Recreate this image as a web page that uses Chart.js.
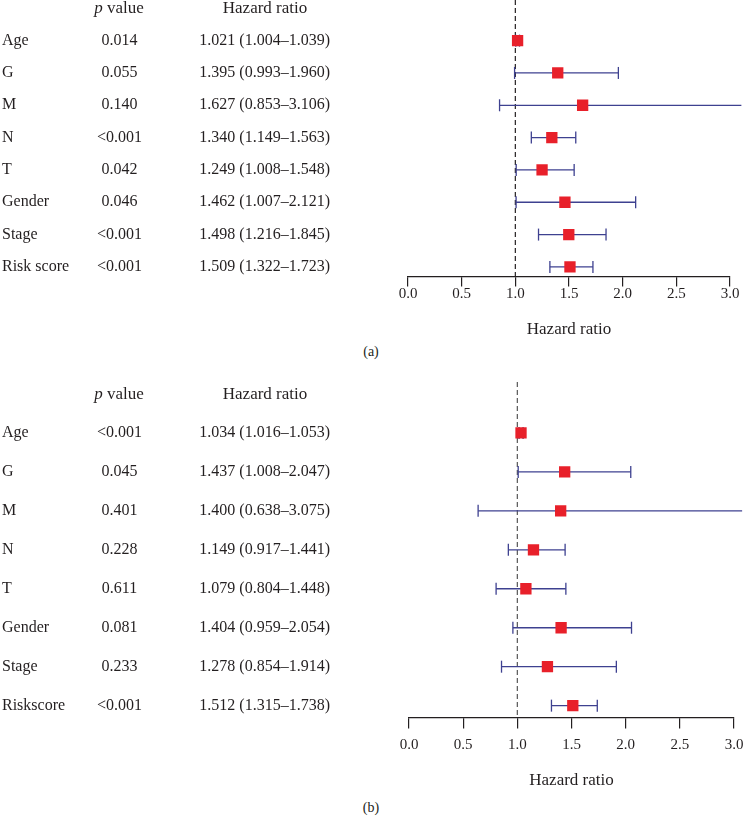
<!DOCTYPE html>
<html>
<head>
<meta charset="utf-8">
<script src="https://cdn.jsdelivr.net/npm/chart.js@4.4.1/dist/chart.umd.min.js"></script>
<style>
  body { margin: 0; background: #fff; }
  #wrap { position: relative; width: 743px; height: 820px; font-family: 'Liberation Serif', 'Times New Roman', serif; color: #231f20; }
  canvas { position: absolute; left: 0; }
  .hdr { position: absolute; font-size: 17px; transform: translate(-50%, -50%); white-space: nowrap; }
  .cap { position: absolute; font-size: 14px; transform: translate(-50%, -50%); }
</style>
</head>
<body>
<div id="wrap">
  <canvas id="chartA" width="743" height="344" style="top:0px"></canvas>
  <canvas id="chartB" width="743" height="425" style="top:370px"></canvas>
  <div class="hdr" id="pHeadA"><i>p</i> value</div>
  <div class="hdr" id="hrHeadA">Hazard ratio</div>
  <div class="hdr" id="pHeadB"><i>p</i> value</div>
  <div class="hdr" id="hrHeadB">Hazard ratio</div>
  <div class="cap" style="left:371px;top:352px">(a)</div>
  <div class="cap" style="left:371px;top:808px">(b)</div>
</div>
<script>
// ─── Dados: painel (a) ────────────────────────────────────
const namesA = ['Age', 'G', 'M', 'N', 'T', 'Gender', 'Stage', 'Risk score'];
const pvalA  = ['0.014', '0.055', '0.140', '<0.001', '0.042', '0.046', '<0.001', '<0.001'];
const hrA    = [1.021, 1.395, 1.627, 1.340, 1.249, 1.462, 1.498, 1.509];
const loA    = [1.004, 0.993, 0.853, 1.149, 1.008, 1.007, 1.216, 1.322];
const hiA    = [1.039, 1.960, 3.106, 1.563, 1.548, 2.121, 1.845, 1.723];

// ─── Dados: painel (b) ────────────────────────────────────
const namesB = ['Age', 'G', 'M', 'N', 'T', 'Gender', 'Stage', 'Riskscore'];
const pvalB  = ['<0.001', '0.045', '0.401', '0.228', '0.611', '0.081', '0.233', '<0.001'];
const hrB    = [1.034, 1.437, 1.400, 1.149, 1.079, 1.404, 1.278, 1.512];
const loB    = [1.016, 1.008, 0.638, 0.917, 0.804, 0.959, 0.854, 1.315];
const hiB    = [1.053, 2.047, 3.075, 1.441, 1.448, 2.054, 1.914, 1.738];

const xTicks = [0, 0.5, 1, 1.5, 2, 2.5, 3];

const FONT = "'Liberation Serif', 'Times New Roman', serif";
const TEXT = '#231f20', RED = '#e8202a', NAVY = '#3e4190';

function hrText(hr, lo, hi, i) {
  return `${hr[i].toFixed(3)} (${lo[i].toFixed(3)}–${hi[i].toFixed(3)})`;
}

function buildPanel(id, names, pvals, hr, lo, hi, cfg) {
  const rows = names.map((_, i) => i);

  // barras de IC com "caps" verticais
  const bars = rows.map(i => ({
    data: [{ x: lo[i], y: i }, { x: hi[i], y: i }],
    borderColor: NAVY, borderWidth: 1.3,
    pointStyle: 'line', pointRotation: 90, pointRadius: 6,
    pointBorderColor: NAVY, pointBorderWidth: 1.3,
    clip: false, order: 1,
  }));

  const datasets = [
    {
      data: rows.map(i => ({ x: hr[i], y: i })),
      showLine: false, pointStyle: 'rect', pointRadius: 8,
      pointBackgroundColor: RED, pointBorderWidth: 0, order: 0,
    },
    ...bars,
    {
      data: [{ x: 1, y: cfg.yMin }, { x: 1, y: cfg.yMax }],
      borderColor: cfg.dash, borderWidth: 1.2, borderDash: [5, 3],
      pointRadius: 0, order: 2,
    },
  ];

  const tickFont = { family: FONT, size: 16 };
  const yBase = {
    type: 'linear', position: 'left', reverse: true,
    min: cfg.yMin, max: cfg.yMax,
    grid: { display: false, drawTicks: false },
    border: { display: false },
    afterBuildTicks: s => { s.ticks = rows.map(i => ({ value: i })); },
  };
  const fitTo = w => s => { s.width = w; s.paddingTop = 0; s.paddingBottom = 0; };

  const chart = new Chart(document.getElementById(id), {
    type: 'line',
    data: { datasets },
    options: {
      responsive: false, animation: false, events: [],
      layout: { autoPadding: false, padding: { left: 2, right: cfg.right, top: cfg.top, bottom: 0 } },
      plugins: { legend: { display: false }, tooltip: { enabled: false } },
      scales: {
        x: {
          type: 'linear', position: 'bottom', min: 0, max: 3,
          afterBuildTicks: s => { s.ticks = xTicks.map(v => ({ value: v })); },
          afterFit: s => { s.paddingLeft = 0; s.paddingRight = 0; },
          ticks: {
            callback: v => v.toFixed(1), padding: cfg.tickPad, color: TEXT,
            font: { family: FONT, size: 15, lineHeight: 1 }, maxRotation: 0,
          },
          grid: { drawOnChartArea: false, drawTicks: true, tickLength: cfg.tickLen, color: TEXT, lineWidth: 1.2 },
          border: { display: true, color: TEXT, width: 1.2 },
          title: {
            display: true, text: 'Hazard ratio', color: TEXT,
            font: { family: FONT, size: 17, lineHeight: 1.2 },
            padding: { top: cfg.titleTop, bottom: 4 },
          },
        },
        y: {
          ...yBase, weight: 0,
          afterFit: fitTo(cfg.hrWidth),
          ticks: { autoSkip: false, crossAlign: 'near', padding: cfg.hrPad, color: TEXT, font: tickFont,
                   callback: v => hrText(hr, lo, hi, v) },
        },
        yP: {
          ...yBase, weight: 1,
          afterFit: fitTo(60),
          ticks: { autoSkip: false, crossAlign: 'center', padding: 8, color: TEXT, font: tickFont,
                   callback: v => pvals[v] },
        },
        yName: {
          ...yBase, weight: 2,
          afterFit: fitTo(88),
          ticks: { autoSkip: false, crossAlign: 'far', padding: 0, color: TEXT, font: tickFont,
                   callback: v => names[v] },
        },
      },
    },
  });

  // cabeçalhos da tabela na linha "-1"
  const top = parseFloat(chart.canvas.style.top) || 0;
  const yHead = chart.scales.y.getPixelForValue(-1) + top;
  const pH = document.getElementById(cfg.pHead), hH = document.getElementById(cfg.hrHead);
  pH.style.left = '119px'; pH.style.top = yHead + 'px';
  hH.style.left = '265px'; hH.style.top = yHead + 'px';
  return chart;
}

buildPanel('chartA', namesA, pvalA, hrA, loA, hiA, {
  yMin: -1.257, yMax: 7.3, top: 0, right: 13, hrWidth: 258, hrPad: 78,
  tickLen: 10, tickPad: 0, titleTop: 18, dash: '#231f20', pHead: 'pHeadA', hrHead: 'hrHeadA',
});
buildPanel('chartB', namesB, pvalB, hrB, loB, hiB, {
  yMin: -1.308, yMax: 7.307, top: 12, right: 9, hrWidth: 259, hrPad: 79,
  tickLen: 11, tickPad: 9, titleTop: 9, dash: '#555555', pHead: 'pHeadB', hrHead: 'hrHeadB',
});
</script>
</body>
</html>
